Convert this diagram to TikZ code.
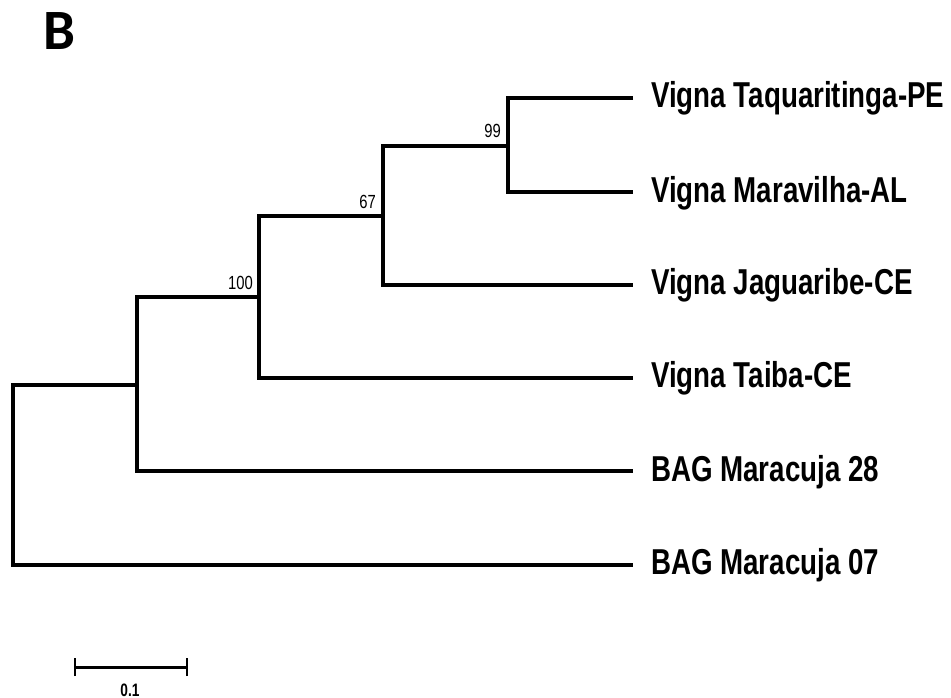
\documentclass[tikz,border=0pt]{standalone}
\usepackage{fontspec}
\usepackage{graphicx}
\setmainfont{Liberation Sans}
\newfontfamily\carlitofont{Carlito}
\newcommand{\narrowtext}[2]{\scalebox{#1}[1]{#2}}
\tikzset{
  branch/.style={line width=4.6pt, black},
  leaflabel/.style={anchor=base west, inner sep=0pt, font=\fontsize{36}{40}\selectfont\bfseries},
  bootlabel/.style={anchor=base east, inner sep=0pt, font=\fontsize{19}{22}\selectfont},
}
\begin{document}
\begin{tikzpicture}[x=1pt, y={(0pt,-1pt)}]
\useasboundingbox (0,0) rectangle (951,698);
% panel letter
\node[anchor=base west, inner sep=0pt, font=\carlitofont\bfseries\fontsize{57}{60}\selectfont] (panel) at (43,50) {B};
% leaf tips
\coordinate (t1) at (633,98);
\coordinate (t2) at (633,192);
\coordinate (t3) at (633,285);
\coordinate (t4) at (633,378);
\coordinate (t5) at (633,471);
\coordinate (t6) at (633,565);
% internal nodes
\coordinate (n99) at (508,146);
\coordinate (n67) at (383,216);
\coordinate (n100) at (259,297);
\coordinate (n1) at (137,385);
\coordinate (n0) at (13,475);
% branches
\draw[branch] (t1) -| (n99) |- (t2);
\draw[branch] (n99) -| (n67) |- (t3);
\draw[branch] (n67) -| (n100) |- (t4);
\draw[branch] (n100) -| (n1) |- (t5);
\draw[branch] (n1) -| (n0) |- (t6);
% leaf labels
\node[leaflabel] (l1) at (651,108) {\narrowtext{0.77}{Vigna Taquaritinga-PE}};
\node[leaflabel] (l2) at (651,202) {\narrowtext{0.77}{Vigna Maravilha-AL}};
\node[leaflabel] (l3) at (651,294) {\narrowtext{0.77}{Vigna Jaguaribe-CE}};
\node[leaflabel] (l4) at (651,387) {\narrowtext{0.77}{Vigna Taiba-CE}};
\node[leaflabel] (l5) at (651,481) {\narrowtext{0.77}{BAG Maracuja 28}};
\node[leaflabel] (l6) at (651,574) {\narrowtext{0.77}{BAG Maracuja 07}};
% bootstrap values
\node[bootlabel] (b99) at (501,138) {\narrowtext{0.78}{99}};
\node[bootlabel] (b67) at (376,208) {\narrowtext{0.78}{67}};
\node[bootlabel] (b100) at (253,289) {\narrowtext{0.78}{100}};
% scale bar
\coordinate (s1) at (75,667);
\coordinate (s2) at (187,667);
\draw[line width=3pt] (s1) -- (s2);
\draw[line width=2.5pt] ([yshift=-9pt]s1) -- ([yshift=9pt]s1);
\draw[line width=2.5pt] ([yshift=-9pt]s2) -- ([yshift=9pt]s2);
\node[anchor=base, inner sep=0pt, font=\fontsize{18}{20}\selectfont\bfseries] (scale) at (130,696) {\narrowtext{0.76}{0.1}};
\end{tikzpicture}
\end{document}
